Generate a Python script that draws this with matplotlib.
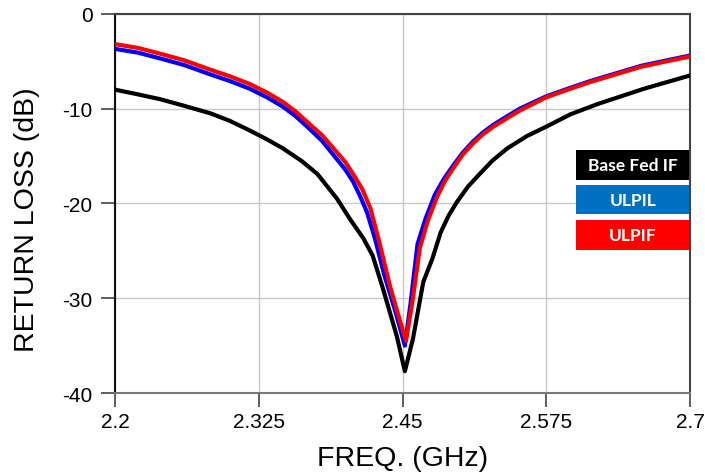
import matplotlib
matplotlib.use("Agg")
import matplotlib.pyplot as plt
from matplotlib.patches import Rectangle

plt.rcParams['font.family'] = ['Liberation Sans', 'DejaVu Sans']
plt.rcParams['axes.unicode_minus'] = False

# return loss curves (GHz, dB)
freq_base = [2.2, 2.22, 2.239, 2.26, 2.283, 2.30, 2.317, 2.333, 2.346, 2.362,
             2.376, 2.393, 2.404, 2.416, 2.424, 2.433, 2.445, 2.452, 2.459,
             2.468, 2.476, 2.483, 2.49, 2.497, 2.507, 2.517, 2.528, 2.541,
             2.558, 2.575, 2.596, 2.62, 2.64, 2.66, 2.68, 2.7]
rl_base = [-8.0, -8.5, -9.0, -9.7, -10.5, -11.3, -12.3, -13.3, -14.2, -15.5,
           -16.9, -19.5, -21.6, -23.7, -25.5, -29.0, -34.0, -37.7, -34.3,
           -28.3, -25.8, -23.1, -21.3, -19.9, -18.2, -16.9, -15.5, -14.2,
           -12.9, -11.9, -10.6, -9.5, -8.7, -7.9, -7.2, -6.5]

freq_ulpil = [2.2, 2.22, 2.239, 2.26, 2.283, 2.30, 2.317, 2.332, 2.346, 2.357,
              2.367, 2.38, 2.39, 2.40, 2.407, 2.413, 2.419, 2.426, 2.434,
              2.444, 2.452, 2.457, 2.463, 2.470, 2.478, 2.486, 2.494, 2.502,
              2.511, 2.52, 2.529, 2.541, 2.552, 2.575, 2.596, 2.613, 2.635,
              2.657, 2.68, 2.7]
rl_ulpil = [-3.7, -4.1, -4.7, -5.4, -6.4, -7.1, -7.9, -8.8, -9.8, -10.8,
            -11.9, -13.4, -14.9, -16.4, -17.7, -19.2, -20.9, -23.7, -27.5,
            -31.5, -35.0, -30.5, -24.3, -21.6, -19.1, -17.4, -16.0, -14.7,
            -13.5, -12.5, -11.7, -10.8, -10.0, -8.7, -7.8, -7.1, -6.3,
            -5.5, -4.9, -4.4]

freq_ulpif = [2.2, 2.22, 2.239, 2.26, 2.283, 2.30, 2.317, 2.332, 2.346, 2.357,
              2.367, 2.38, 2.39, 2.40, 2.407, 2.415, 2.422, 2.429, 2.439,
              2.448, 2.453, 2.459, 2.465, 2.472, 2.480, 2.487, 2.494, 2.502,
              2.511, 2.52, 2.529, 2.541, 2.552, 2.575, 2.596, 2.613, 2.635,
              2.657, 2.68, 2.7]
rl_ulpif = [-3.2, -3.6, -4.2, -4.9, -5.9, -6.6, -7.4, -8.3, -9.3, -10.3,
            -11.4, -12.8, -14.2, -15.6, -16.9, -18.5, -20.5, -23.7, -28.7,
            -32.5, -34.5, -30.0, -24.7, -21.8, -19.3, -17.6, -16.3, -14.9,
            -13.7, -12.7, -11.9, -11.0, -10.2, -8.8, -7.9, -7.2, -6.4,
            -5.6, -5.0, -4.5]

xticks = [2.2, 2.325, 2.45, 2.575, 2.7]
xtick_labels = ['2.2', '2.325', '2.45', '2.575', '2.7']
yticks = [0, -10, -20, -30, -40]

legend_names = ['Base Fed IF', 'ULPIL', 'ULPIF']
legend_colors = ['#000000', '#0070C0', '#FF0000']

fig = plt.figure(figsize=(7.05, 4.77), dpi=100)
ax = fig.add_axes([0.163, 0.174, 0.816, 0.795])

ax.plot(freq_base, rl_base, color='black', lw=3.0, zorder=3)
ax.plot(freq_ulpil, rl_ulpil, color='#0000FF', lw=3.0, zorder=4)
ax.plot(freq_ulpif, rl_ulpif, color='#FF0000', lw=3.0, zorder=5)

ax.set_xlim(2.2, 2.7)
ax.set_ylim(-40, 0)
ax.set_xticks(xticks)
ax.set_xticklabels(xtick_labels)
ax.set_yticks(yticks)
ax.tick_params(labelsize=15, length=10, width=1.2, color='#444444')
ax.tick_params(axis='x', pad=4)
ax.tick_params(axis='y', pad=6)
ax.grid(True, color='#c8c8c8', lw=1)
ax.set_axisbelow(True)
for sp in ax.spines.values():
    sp.set_color('#444444')
    sp.set_linewidth(1.5)
ax.spines['left'].set_color('#111111')
ax.spines['bottom'].set_color('#777777')

ax.set_xlabel('FREQ. (GHz)', fontsize=20.5)
ax.set_ylabel('RETURN LOSS (dB)', fontsize=20.5)
ax.xaxis.set_label_coords(0.5, -0.137)
ax.yaxis.set_label_coords(-0.130, 0.46)

# legend made of coloured boxes with white labels
box_tops = [0.641, 0.549, 0.456]
box_h = 0.078
for name, col, top in zip(legend_names, legend_colors, box_tops):
    ax.add_patch(Rectangle((0.802, top - box_h), 0.196, box_h, transform=ax.transAxes,
                           facecolor=col, edgecolor='none', zorder=6))
    ax.text(0.900, top - box_h / 2, name, transform=ax.transAxes, ha='center',
            va='center', color='white', fontsize=12.5, fontweight='bold',
            family=['Lato', 'DejaVu Sans'], zorder=7)

fig.savefig('out.png', dpi=100)
